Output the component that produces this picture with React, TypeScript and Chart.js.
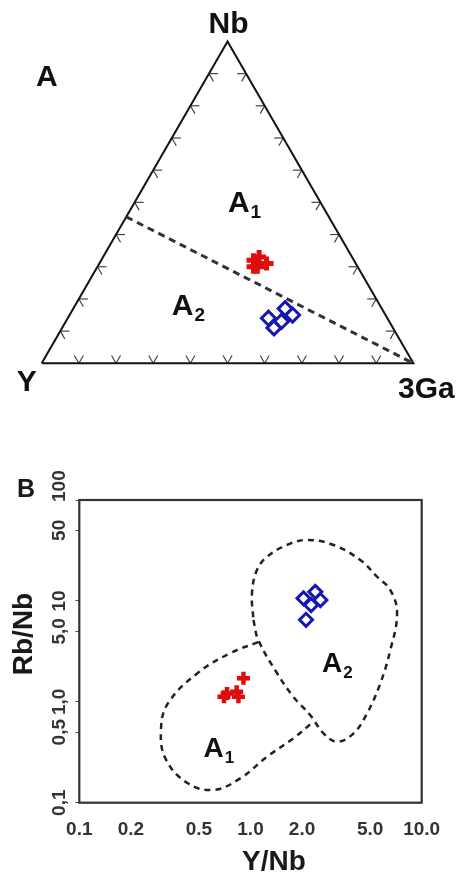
import React, { useEffect, useRef } from 'react';
import { Chart, registerables } from 'chart.js';

Chart.register(...registerables);

const FONT = '"Liberation Sans", Arial, Helvetica, sans-serif';

// ---------- Panel A: Y – Nb – 3Ga ternary, compositions in percent [Y, Nb, 3Ga] ----------
const ternaryTickSteps = [10, 20, 30, 40, 50, 60, 70, 80, 90];
const ternaryOutline = [[100, 0, 0], [0, 0, 100], [0, 100, 0], [100, 0, 0]];
const a1a2Divider = [[54.5, 45.5, 0], [0, 0, 100]];
const redTernary = [[27, 32, 41], [25, 33, 42], [24, 31, 45], [27, 30, 43], [28, 30, 42]];
const blueTernary = [[32, 14, 54], [29, 13, 58], [25, 15, 60], [26, 17, 57], [32, 11, 57]];
const regionLabelsA = ['A', 'A'];
const regionSubsA = ['1', '2'];
const regionPosA = [[0.501, 0.408], [0.35, 0.13]];

// ---------- Panel B: Rb/Nb vs Y/Nb ----------
const yNbTicks = [0.1, 0.2, 0.5, 1, 2, 5, 10];
const yNbTickLabels = ['0.1', '0.2', '0.5', '1.0', '2.0', '5.0', '10.0'];
const rbNbTicks = [0.1, 0.5, 1, 5, 10, 50, 100];
const rbNbTickLabels = ['0,1', '0,5', '1,0', '5,0', '10', '50', '100'];
const redYNb = [0.91, 0.73, 0.83, 0.85, 0.7];
const redRbNb = [1.71, 1.21, 1.26, 1.12, 1.12];
const blueYNb = [2.04, 2.39, 2.56, 2.26, 2.11];
const blueRbNb = [10.6, 12.3, 10.2, 9.1, 6.5];
const fieldA1YNb = [1.11, 0.76, 0.49, 0.33, 0.3, 0.32, 0.43, 0.61, 0.87, 1.25, 1.78, 2.33];
const fieldA1RbNb = [3.9, 3.03, 1.92, 0.97, 0.53, 0.27, 0.156, 0.134, 0.174, 0.286, 0.434, 0.635];
const fieldA2YNb = [1.04, 1.11, 1.43, 1.78, 2.23, 2.67, 3.2, 4.0, 4.8, 5.73, 6.56, 7.18, 6.56, 5.48, 4.38, 3.06, 2.14, 1.63, 1.25, 1.09, 1.02, 1.04];
const fieldA2RbNb = [6.47, 4.1, 1.92, 1.12, 0.74, 0.487, 0.402, 0.487, 0.77, 1.52, 3.26, 7.54, 12.8, 17.4, 25.4, 35.8, 40.2, 35.8, 27.4, 20.2, 11.9, 6.47];
const regionLabelsB = ['A', 'A'];
const regionSubsB = ['1', '2'];
const regionPosB = [[0.531, 0.286], [2.62, 1.99]];

const S3 = Math.sqrt(3) / 2;
const toCart = (t: number[]) => ({ x: (t[2] + t[1] / 2) / 100, y: (t[1] * S3) / 100 });
const zip = (xs: number[], ys: number[]) => xs.map((x, i) => ({ x, y: ys[i] }));

function drawSubLabel(ctx: CanvasRenderingContext2D, main: string, sub: string, x: number, y: number, size: number, subSize: number, dy: number) {
  ctx.font = `bold ${size}px ${FONT}`;
  ctx.textAlign = 'left';
  ctx.textBaseline = 'alphabetic';
  ctx.fillText(main, x, y);
  const w = ctx.measureText(main).width;
  ctx.font = `bold ${subSize}px ${FONT}`;
  ctx.fillText(sub, x + w + 1, y + dy);
}

const ternaryDecor = {
  id: 'ternaryDecor',
  beforeDatasetsDraw(chart: any) {
    const { ctx, scales } = chart;
    const P = (t: number[]) => {
      const c = toCart(t);
      return { x: scales.x.getPixelForValue(c.x), y: scales.y.getPixelForValue(c.y) };
    };
    const L = 9;
    ctx.save();
    ctx.strokeStyle = '#444';
    ctx.lineWidth = 1.2;
    const seg = (p: { x: number; y: number }, dx: number, dy: number) => {
      ctx.beginPath();
      ctx.moveTo(p.x, p.y);
      ctx.lineTo(p.x + dx * L, p.y + dy * L);
      ctx.stroke();
    };
    ternaryTickSteps.forEach((f) => {
      const b = P([100 - f, 0, f]);
      seg(b, -0.5, -S3);
      seg(b, 0.5, -S3);
      const l = P([100 - f, f, 0]);
      seg(l, 1, 0);
      seg(l, 0.5, S3);
      const r = P([0, f, 100 - f]);
      seg(r, -1, 0);
      seg(r, -0.5, S3);
    });
    ctx.restore();
  },
  afterDraw(chart: any) {
    const { ctx, scales } = chart;
    const P = (t: number[]) => {
      const c = toCart(t);
      return { x: scales.x.getPixelForValue(c.x), y: scales.y.getPixelForValue(c.y) };
    };
    ctx.save();
    ctx.fillStyle = '#111';
    ctx.font = `bold 30px ${FONT}`;
    ctx.textAlign = 'center';
    ctx.textBaseline = 'alphabetic';
    const pNb = P([0, 100, 0]);
    const pY = P([100, 0, 0]);
    const pGa = P([0, 0, 100]);
    ctx.fillText('Nb', pNb.x + 1, pNb.y - 8);
    ctx.fillText('Y', pY.x - 15, pY.y + 28);
    ctx.fillText('3Ga', pGa.x + 13, pGa.y + 35);
    ctx.textAlign = 'left';
    ctx.fillText('A', 36, 86);
    regionLabelsA.forEach((m, i) => {
      const x = scales.x.getPixelForValue(regionPosA[i][0]);
      const y = scales.y.getPixelForValue(regionPosA[i][1]);
      drawSubLabel(ctx, m, regionSubsA[i], x, y, 30, 19, 6);
    });
    ctx.restore();
  },
};

const plotDecor = {
  id: 'plotDecor',
  afterDraw(chart: any) {
    const { ctx, chartArea: ca, scales } = chart;
    ctx.save();
    ctx.strokeStyle = '#333';
    ctx.lineWidth = 2.2;
    ctx.strokeRect(ca.left, ca.top, ca.right - ca.left, ca.bottom - ca.top);
    ctx.fillStyle = '#333';
    ctx.font = `bold 19px ${FONT}`;
    ctx.textBaseline = 'alphabetic';
    rbNbTicks.forEach((v, i) => {
      const py = scales.y.getPixelForValue(v);
      const isTop = i === rbNbTicks.length - 1;
      ctx.save();
      ctx.translate(64.5, isTop ? py + 2 : py);
      ctx.rotate(-Math.PI / 2);
      ctx.textAlign = isTop ? 'left' : 'center';
      ctx.fillText(rbNbTickLabels[i], 0, 0);
      ctx.restore();
    });
    ctx.textAlign = 'center';
    ctx.fillStyle = '#1a1a1a';
    ctx.font = `bold 28px ${FONT}`;
    ctx.save();
    ctx.translate(31.5, 214);
    ctx.rotate(-Math.PI / 2);
    ctx.fillText('Rb/Nb', 0, 0);
    ctx.restore();
    ctx.fillText('Y/Nb', 274, 449.5);
    ctx.font = `bold 25px ${FONT}`;
    ctx.fillText('B', 26, 77);
    ctx.fillStyle = '#111';
    regionLabelsB.forEach((m, i) => {
      const x = scales.x.getPixelForValue(regionPosB[i][0]);
      const y = scales.y.getPixelForValue(regionPosB[i][1]);
      drawSubLabel(ctx, m, regionSubsB[i], x, y, 28, 17, 6);
    });
    ctx.restore();
  },
};

export default function App() {
  const refA = useRef<HTMLCanvasElement>(null);
  const refB = useRef<HTMLCanvasElement>(null);

  useEffect(() => {
    const chartA = new Chart(refA.current as HTMLCanvasElement, {
      type: 'scatter',
      data: {
        datasets: [
          {
            data: redTernary.map(toCart),
            pointStyle: 'cross',
            pointRadius: 7,
            pointBorderWidth: 5,
            pointBorderColor: '#e00d0d',
            pointBackgroundColor: '#e00d0d',
            order: 0,
          },
          {
            data: blueTernary.map(toCart),
            pointStyle: 'rectRot',
            pointRadius: 7,
            pointBorderWidth: 3,
            pointBorderColor: '#1616b0',
            pointBackgroundColor: 'rgba(0,0,0,0)',
            order: 1,
          },
          {
            data: a1a2Divider.map(toCart),
            showLine: true,
            borderColor: '#333',
            borderWidth: 3,
            borderDash: [7, 5],
            pointRadius: 0,
            order: 2,
          },
          {
            data: ternaryOutline.map(toCart),
            showLine: true,
            borderColor: '#111',
            borderWidth: 2,
            pointRadius: 0,
            order: 3,
          },
        ],
      } as any,
      options: {
        animation: false,
        responsive: false,
        devicePixelRatio: 1,
        events: [],
        layout: { padding: 0, autoPadding: false },
        plugins: { legend: { display: false }, tooltip: { enabled: false } },
        scales: {
          x: { type: 'linear', display: false, min: -0.1122, max: 1.1308 },
          y: { type: 'linear', display: false, min: -0.1525, max: 0.9774 },
        },
      } as any,
      plugins: [ternaryDecor],
    });

    const chartB = new Chart(refB.current as HTMLCanvasElement, {
      type: 'scatter',
      data: {
        datasets: [
          {
            data: zip(redYNb, redRbNb),
            pointStyle: 'cross',
            pointRadius: 6.5,
            pointBorderWidth: 4.5,
            pointBorderColor: '#e00d0d',
            pointBackgroundColor: '#e00d0d',
            order: 0,
          },
          {
            data: zip(blueYNb, blueRbNb),
            pointStyle: 'rectRot',
            pointRadius: 6.5,
            pointBorderWidth: 3,
            pointBorderColor: '#1616b0',
            pointBackgroundColor: 'rgba(0,0,0,0)',
            order: 1,
          },
          {
            data: zip(fieldA1YNb, fieldA1RbNb),
            showLine: true,
            tension: 0.4,
            borderColor: '#222',
            borderWidth: 2.5,
            borderDash: [6, 5],
            pointRadius: 0,
            order: 2,
          },
          {
            data: zip(fieldA2YNb, fieldA2RbNb),
            showLine: true,
            tension: 0.4,
            borderColor: '#222',
            borderWidth: 2.5,
            borderDash: [6, 5],
            pointRadius: 0,
            order: 3,
          },
        ],
      } as any,
      options: {
        animation: false,
        responsive: false,
        devicePixelRatio: 1,
        events: [],
        layout: { padding: { left: 0, right: 40.3, top: 80, bottom: 0 }, autoPadding: false },
        plugins: { legend: { display: false }, tooltip: { enabled: false } },
        scales: {
          x: {
            type: 'logarithmic',
            position: 'bottom',
            min: 0.1,
            max: 10,
            afterBuildTicks: (s: any) => {
              s.ticks = yNbTicks.map((v) => ({ value: v }));
            },
            afterFit: (s: any) => {
              s.height = 70.3;
            },
            grid: { display: false, drawTicks: false },
            border: { display: false },
            ticks: {
              autoSkip: false,
              maxRotation: 0,
              minRotation: 0,
              padding: 16,
              color: '#333',
              font: { family: FONT, size: 19, weight: 'bold' },
              callback: (_v: any, i: number) => yNbTickLabels[i],
            },
          },
          y: {
            type: 'logarithmic',
            position: 'left',
            min: 0.1,
            max: 100,
            afterBuildTicks: (s: any) => {
              s.ticks = rbNbTicks.map((v) => ({ value: v }));
            },
            afterFit: (s: any) => {
              s.width = 79.3;
            },
            grid: { display: true, drawOnChartArea: false, drawTicks: true, tickLength: 4, color: '#555', lineWidth: 1 },
            border: { display: false },
            ticks: { display: false },
          },
        },
      } as any,
      plugins: [plotDecor],
    });

    return () => {
      chartA.destroy();
      chartB.destroy();
    };
  }, []);

  return (
    <div style={{ position: 'absolute', left: 0, top: 0, width: 462, height: 873, background: '#fff' }}>
      <canvas ref={refA} width={462} height={420} style={{ position: 'absolute', left: 0, top: 0 }} />
      <canvas ref={refB} width={462} height={453} style={{ position: 'absolute', left: 0, top: 420 }} />
    </div>
  );
}
